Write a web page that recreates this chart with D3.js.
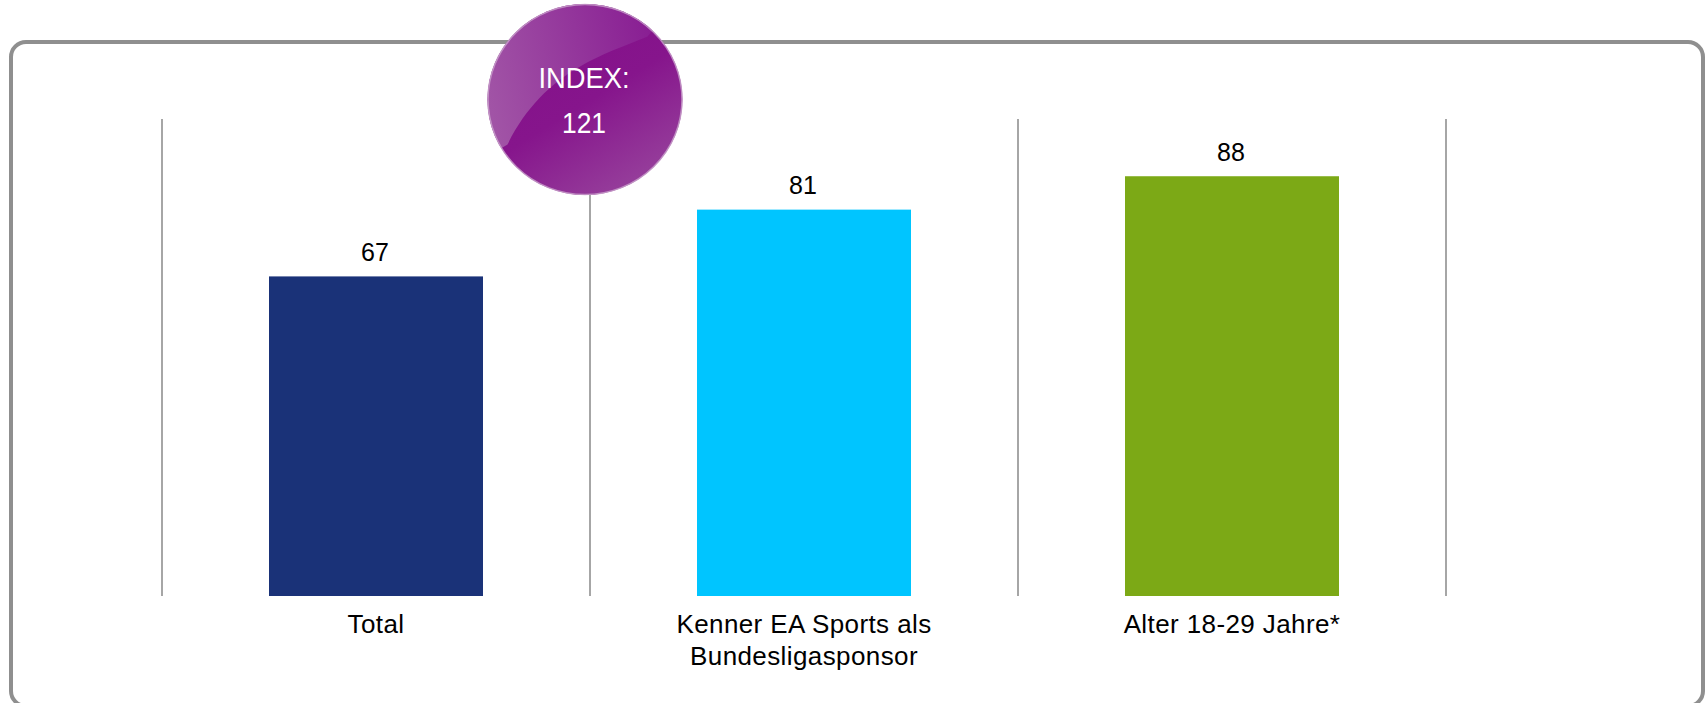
<!DOCTYPE html>
<html><head><meta charset="utf-8">
<script src="https://cdn.jsdelivr.net/npm/d3@7/dist/d3.min.js"></script>
<style>html,body{margin:0;padding:0;background:#fff;overflow:hidden}svg{display:block}text{font-family:"Liberation Sans",Arial,sans-serif}</style>
</head><body><script>
const categories = ["Total","Kenner EA Sports als Bundesligasponsor","Alter 18-29 Jahre*"];
const categoryLines = [["Total"],["Kenner EA Sports als","Bundesligasponsor"],["Alter 18-29 Jahre*"]];
const values = [67,81,88];
const colors = ["#1a3278","#00c5ff","#7ca916"];
const indexLines = ["INDEX:","121"];
const indexWidths = [91,44];

const W=1705,H=703;
const svg=d3.select("body").append("svg").attr("width",W).attr("height",H);
const defs=svg.append("defs");

const x=d3.scaleBand().domain(categories).range([162,1446]).paddingInner(.5).paddingOuter(.25);
const y=d3.scaleLinear().domain([0,100]).range([596,119]);

// frame
svg.append("rect").attr("x",11).attr("y",42).attr("width",1692).attr("height",664).attr("rx",15)
  .attr("fill","#fff").attr("stroke","#8f8f8f").attr("stroke-width",4);

// separators
const seps=d3.range(categories.length+1).map(i=>162+i*x.step());
svg.selectAll(".sep").data(seps).join("line").attr("class","sep")
  .attr("x1",d=>d).attr("x2",d=>d).attr("y1",y(100)).attr("y2",y(0))
  .attr("stroke","#a6a6a6").attr("stroke-width",2);

// bars
svg.selectAll(".bar").data(values).join("rect").attr("class","bar")
  .attr("x",(d,i)=>x(categories[i])).attr("width",x.bandwidth())
  .attr("y",d=>y(d)).attr("height",d=>y(0)-y(d))
  .attr("fill",(d,i)=>colors[i]);

// value labels
svg.selectAll(".val").data(values).join("text").attr("class","val")
  .attr("x",(d,i)=>x(categories[i])+x.bandwidth()/2-1).attr("y",d=>y(d)-15.5)
  .attr("text-anchor","middle").attr("font-size",25).attr("fill","#000").text(d=>d);

// axis labels
const axis=svg.append("g").attr("transform",`translate(0,${y(0)})`).call(d3.axisBottom(x).tickSize(0).tickPadding(0));
axis.select(".domain").remove();
axis.selectAll(".tick text").each(function(d,i){
  const t=d3.select(this).text(null).attr("font-size",26).attr("letter-spacing",.4)
    .attr("font-family",'"Liberation Sans",Arial,sans-serif').attr("fill","#000").attr("y",null).attr("dy",null);
  categoryLines[i].forEach((l,j)=>t.append("tspan").attr("x",0).attr("y",37+j*32).text(l));
});

// bubble
const cx=585,cy=99.5,rx=97.5,ry=95.5;
const base=defs.append("linearGradient").attr("id","base").attr("x1","0.3").attr("y1","0.2").attr("x2","0.8").attr("y2","1");
base.append("stop").attr("offset","0").attr("stop-color","#84118a");
base.append("stop").attr("offset","0.4").attr("stop-color","#86158c");
base.append("stop").attr("offset","1").attr("stop-color","#98449d");
const gloss=defs.append("linearGradient").attr("id","gloss").attr("x1","0").attr("y1","0.5").attr("x2","1").attr("y2","0.3");
gloss.append("stop").attr("offset","0").attr("stop-color","#a154a6");
gloss.append("stop").attr("offset","1").attr("stop-color","#851690");
defs.append("clipPath").attr("id","bc").append("ellipse").attr("cx",cx).attr("cy",cy).attr("rx",rx).attr("ry",ry);
svg.append("ellipse").attr("cx",cx).attr("cy",cy).attr("rx",rx).attr("ry",ry).attr("fill","url(#base)");
const hl=d3.path();
hl.moveTo(cx-rx-5,cy+60);
hl.lineTo(cx-rx+20,cy+45);
hl.bezierCurveTo(cx-40,cy-30,cx+20,cy-45,cx+rx-35,cy-63);
hl.lineTo(cx+rx,cy-ry-10);
hl.lineTo(cx-rx-5,cy-ry-10);
hl.closePath();
svg.append("path").attr("d",hl.toString()).attr("fill","url(#gloss)").attr("clip-path","url(#bc)");
svg.append("ellipse").attr("cx",cx).attr("cy",cy).attr("rx",rx-.5).attr("ry",ry-.5).attr("fill","none")
  .attr("stroke","#c9a3cc").attr("stroke-opacity",.8).attr("stroke-width",1.5);
svg.selectAll(".idx").data(indexLines).join("text").attr("class","idx")
  .attr("x",cx-1).attr("y",(d,i)=>88+i*45).attr("text-anchor","middle")
  .attr("font-size",29).attr("textLength",(d,i)=>indexWidths[i]).attr("lengthAdjust","spacingAndGlyphs")
  .attr("fill","#fff").text(d=>d);
</script></body></html>
